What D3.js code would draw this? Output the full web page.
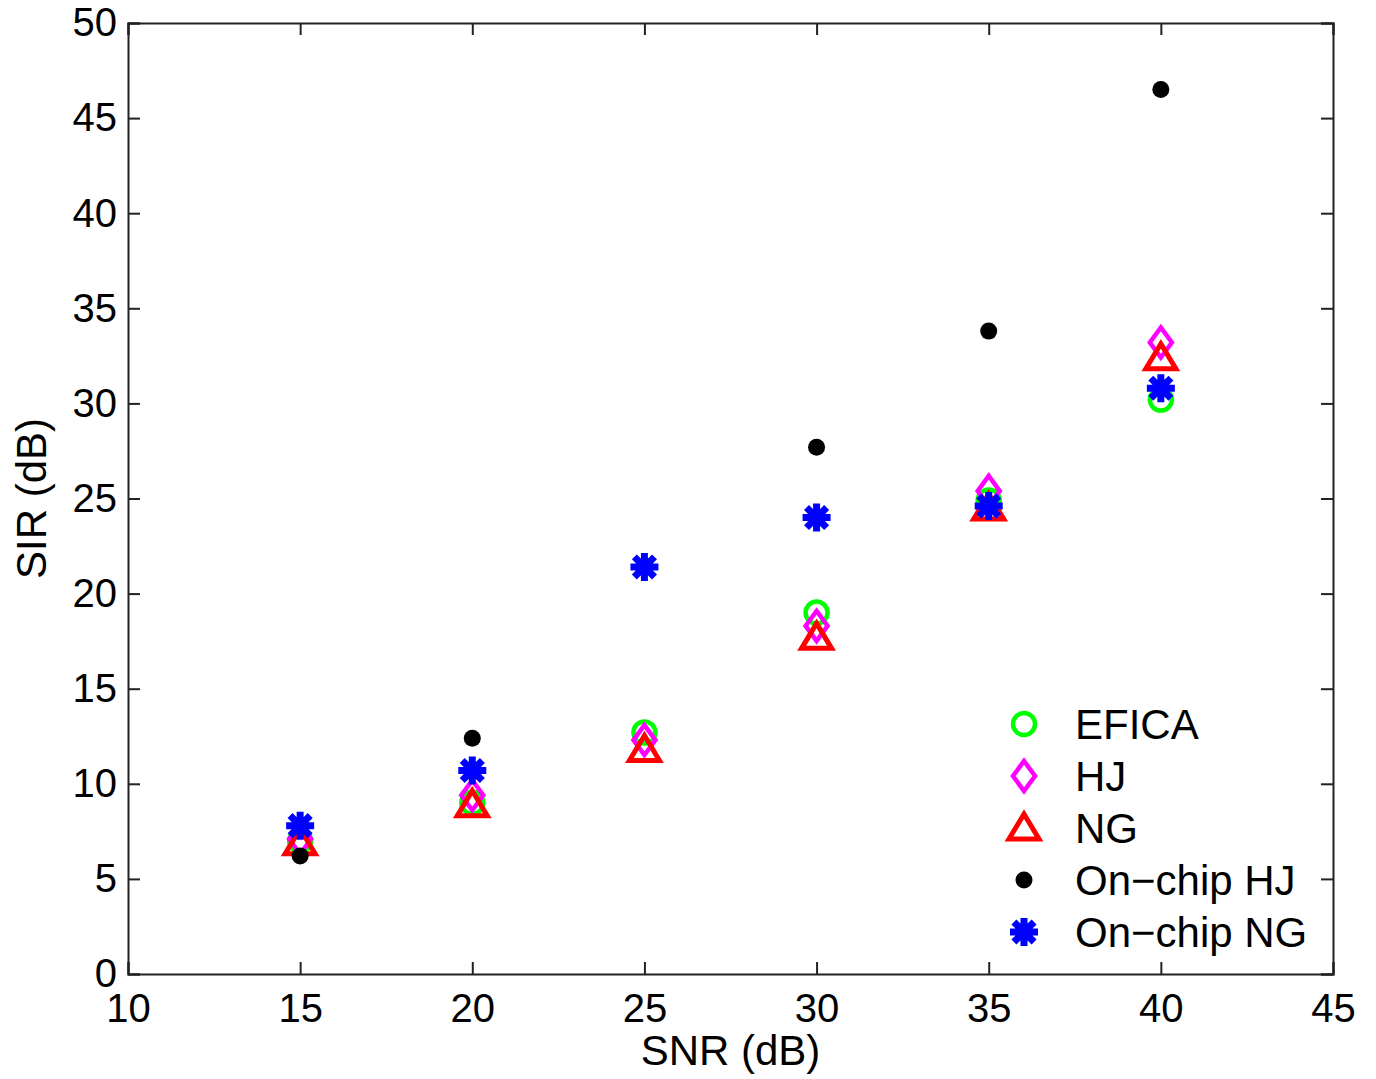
<!DOCTYPE html>
<html>
<head>
<meta charset="utf-8">
<title>SIR vs SNR</title>
<script src="https://d3js.org/d3.v7.min.js"></script>
<style>
  body { margin: 0; background: #fff; }
  text { font-family: "Liberation Sans", Arial, sans-serif; fill: #000; }
</style>
</head>
<body>
<svg id="chart"></svg>
<script>
// SNR values (x) and SIR for each method (y)
var snr = [15, 20, 25, 30, 35, 40];
var efica = [7.0, 9.0, 12.7, 19.0, 24.9, 30.2];
var hj = [7.1, 9.4, 12.3, 18.3, 25.4, 33.2];
var ng = [6.9, 8.9, 11.8, 17.7, 24.5, 32.4];
// no on-chip HJ point is visible at 25 dB
var onchipHJ = [6.2, 12.4, null, 27.7, 33.8, 46.5];
var onchipNG = [7.8, 10.7, 21.4, 24.0, 24.6, 30.8];

var xTicks = [10, 15, 20, 25, 30, 35, 40, 45];
var yTicks = [0, 5, 10, 15, 20, 25, 30, 35, 40, 45, 50];
var legendLabels = ["EFICA", "HJ", "NG", "On\u2212chip HJ", "On\u2212chip NG"];

var W = 1376, H = 1079;
var m = { left: 128, top: 23, right: 43, bottom: 105 };
var iw = W - m.left - m.right, ih = H - m.top - m.bottom;

var svg = d3.select("#chart").attr("width", W).attr("height", H);
var g = svg.append("g").attr("transform", "translate(" + m.left + "," + m.top + ")");

var x = d3.scaleLinear().domain([10, 45]).range([0, iw]);
var y = d3.scaleLinear().domain([0, 50]).range([ih, 0]);

// axes with inward ticks on all four sides
function styleAxis(sel) {
  sel.select(".domain").attr("stroke", "#222").attr("stroke-width", 2);
  sel.selectAll(".tick line").attr("stroke", "#222").attr("stroke-width", 2);
  sel.selectAll("text").style("font-size", "40px").attr("fill", "#000");
}
g.append("g").attr("transform", "translate(0," + ih + ")")
  .call(d3.axisBottom(x).tickValues(xTicks).tickSize(-12).tickPadding(20).tickFormat(d3.format("d")))
  .call(styleAxis);
g.append("g")
  .call(d3.axisLeft(y).tickValues(yTicks).tickSize(-12).tickPadding(11).tickFormat(d3.format("d")))
  .call(styleAxis);
g.append("g")
  .call(d3.axisTop(x).tickValues(xTicks).tickSize(-12).tickFormat(""))
  .call(styleAxis);
g.append("g").attr("transform", "translate(" + iw + ",0)")
  .call(d3.axisRight(y).tickValues(yTicks).tickSize(-12).tickFormat(""))
  .call(styleAxis);

// axis titles
svg.append("text").attr("x", m.left + iw / 2).attr("y", 1065)
  .attr("text-anchor", "middle").style("font-size", "42px").text("SNR (dB)");
svg.append("text").attr("transform", "translate(46," + (m.top + ih / 2) + ") rotate(-90)")
  .attr("text-anchor", "middle").style("font-size", "42px").text("SIR (dB)");

// marker drawers
var markers = {
  circle: function (sel) {
    sel.append("circle").attr("r", 11).attr("fill", "none").attr("stroke", "#00ff00").attr("stroke-width", 4.5);
  },
  diamond: function (sel) {
    sel.append("path").attr("d", "M0,-15L11,0L0,15L-11,0Z").attr("fill", "none")
      .attr("stroke", "#ff00ff").attr("stroke-width", 4.5);
  },
  triangle: function (sel) {
    sel.append("path").attr("d", "M0,-14L15,11L-15,11Z").attr("fill", "none")
      .attr("stroke", "#ff0000").attr("stroke-width", 5).attr("stroke-linejoin", "miter");
  },
  dot: function (sel) {
    sel.append("circle").attr("r", 8.5).attr("fill", "#000");
  },
  star: function (sel) {
    var r = 14, d = r * 0.72;
    sel.append("path")
      .attr("d", "M" + (-r) + ",0L" + r + ",0M0," + (-r) + "L0," + r +
        "M" + (-d) + "," + (-d) + "L" + d + "," + d + "M" + (-d) + "," + d + "L" + d + "," + (-d))
      .attr("stroke", "#0000ff").attr("stroke-width", 7);
  }
};

var series = [
  { name: legendLabels[0], values: efica, marker: "circle" },
  { name: legendLabels[1], values: hj, marker: "diamond" },
  { name: legendLabels[2], values: ng, marker: "triangle" },
  { name: legendLabels[3], values: onchipHJ, marker: "dot" },
  { name: legendLabels[4], values: onchipNG, marker: "star" }
];

series.forEach(function (s) {
  var pts = snr.map(function (v, i) { return { x: v, y: s.values[i] }; })
    .filter(function (p) { return p.y != null; });
  g.append("g").selectAll("g").data(pts).enter().append("g")
    .attr("transform", function (p) { return "translate(" + x(p.x) + "," + y(p.y) + ")"; })
    .each(function () { markers[s.marker](d3.select(this)); });
});

// legend
var leg = svg.append("g").attr("transform", "translate(1024,724)");
series.forEach(function (s, i) {
  var row = leg.append("g").attr("transform", "translate(0," + (i * 52) + ")");
  markers[s.marker](row);
  row.append("text").attr("x", 51).attr("y", 15).style("font-size", "42px").text(s.name);
});
</script>
</body>
</html>
